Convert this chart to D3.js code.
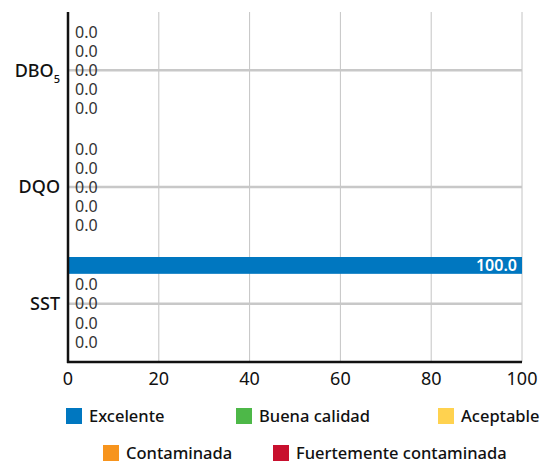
<!DOCTYPE html>
<html><head><meta charset="utf-8">
<script src="https://cdn.jsdelivr.net/npm/d3@7"></script>
<style>body{margin:0;background:#fff}svg{display:block;font-family:"Noto Sans",sans-serif}</style>
</head><body><svg id="c" width="542" height="464"></svg>
<script>
const categories = ["DBO5", "DQO", "SST"];
const series = ["Excelente", "Buena calidad", "Aceptable", "Contaminada", "Fuertemente contaminada"];
const colors = ["#0077C0", "#4DB848", "#FFD24F", "#F7941D", "#C8102E"];
const excelente = [0, 0, 100];
const buena = [0, 0, 0];
const aceptable = [0, 0, 0];
const contaminada = [0, 0, 0];
const fuerte = [0, 0, 0];
const xTicks = [0, 20, 40, 60, 80, 100];
const values = [excelente, buena, aceptable, contaminada, fuerte];

const svg = d3.select("#c");
const m = {l: 68, r: 20, t: 12, b: 102};
const W = 542, H = 464;
const x = d3.scaleLinear().domain([0, 100]).range([m.l, W - m.r]);
const y = d3.scaleBand().domain(categories).range([m.t, H - m.b]).paddingInner(0.2).paddingOuter(0.1);
const ySub = d3.scaleBand().domain(series).range([0, y.bandwidth()]).paddingInner(0.12);

// vertical grid
svg.append("g").selectAll("line").data(xTicks.slice(1)).join("line")
  .attr("x1", d => x(d)).attr("x2", d => x(d)).attr("y1", m.t).attr("y2", H - m.b)
  .attr("stroke", "#c4c4c4").attr("stroke-width", 1);
// horizontal grid at category centers
svg.append("g").selectAll("line").data(categories).join("line")
  .attr("x1", m.l).attr("x2", W - m.r)
  .attr("y1", d => y(d) + y.bandwidth() / 2).attr("y2", d => y(d) + y.bandwidth() / 2)
  .attr("stroke", "#c8c8c8").attr("stroke-width", 2.5);

const rows = [];
categories.forEach((c, i) => series.forEach((s, j) => rows.push({c, s, j, v: values[j][i]})));

svg.append("g").selectAll("rect").data(rows).join("rect")
  .attr("x", x(0)).attr("y", d => y(d.c) + ySub(d.s))
  .attr("width", d => x(d.v) - x(0)).attr("height", ySub.bandwidth())
  .attr("fill", d => colors[d.j]);

svg.append("g").selectAll("text").data(rows).join("text")
  .attr("x", d => d.v > 10 ? x(d.v) - 5 : x(d.v) + 7)
  .attr("y", d => y(d.c) + ySub(d.s) + ySub.bandwidth() / 2)
  .attr("dy", "0.36em")
  .attr("text-anchor", d => d.v > 10 ? "end" : "start")
  .attr("font-size", 16)
  .attr("font-weight", d => d.v > 10 ? 600 : 400)
  .attr("fill", d => d.v > 10 ? "#fff" : "#333")
  .text(d => d.v.toFixed(1));

// axes lines
svg.append("line").attr("x1", m.l).attr("x2", m.l).attr("y1", m.t).attr("y2", H - m.b + 1)
  .attr("stroke", "#111").attr("stroke-width", 2.5);
svg.append("line").attr("x1", m.l - 1).attr("x2", W - m.r).attr("y1", H - m.b).attr("y2", H - m.b)
  .attr("stroke", "#111").attr("stroke-width", 2.5);

// x tick labels
svg.append("g").selectAll("text").data(xTicks).join("text")
  .attr("x", d => x(d)).attr("y", H - m.b + 23).attr("text-anchor", "middle")
  .attr("font-size", 18).attr("fill", "#111").text(d => d);

// y labels
const yl = svg.append("g").selectAll("text").data(categories).join("text")
  .attr("x", m.l - 8).attr("y", d => y(d) + y.bandwidth() / 2).attr("dy", "0.35em")
  .attr("text-anchor", "end").attr("font-size", 18).attr("font-weight", 500).attr("fill", "#111");
yl.each(function(d) {
  const t = d3.select(this);
  if (d === "DBO5") {
    t.append("tspan").text("DBO");
    t.append("tspan").attr("font-size", 11).attr("dy", "0.55em").text("5");
  } else t.text(d);
});

// legend
const legendPos = [[66, 416], [236, 416], [438, 416], [103, 453], [273, 453]];
const lg = svg.append("g").selectAll("g").data(series).join("g")
  .attr("transform", (d, i) => `translate(${legendPos[i][0]},${legendPos[i][1]})`);
lg.append("rect").attr("x", 0).attr("y", -8).attr("width", 16).attr("height", 16)
  .attr("fill", (d, i) => colors[i]);
lg.append("text").attr("x", 23).attr("dy", "0.35em").attr("font-size", 16.5)
  .attr("font-weight", 500).attr("fill", "#111").text(d => d);
</script></body></html>
